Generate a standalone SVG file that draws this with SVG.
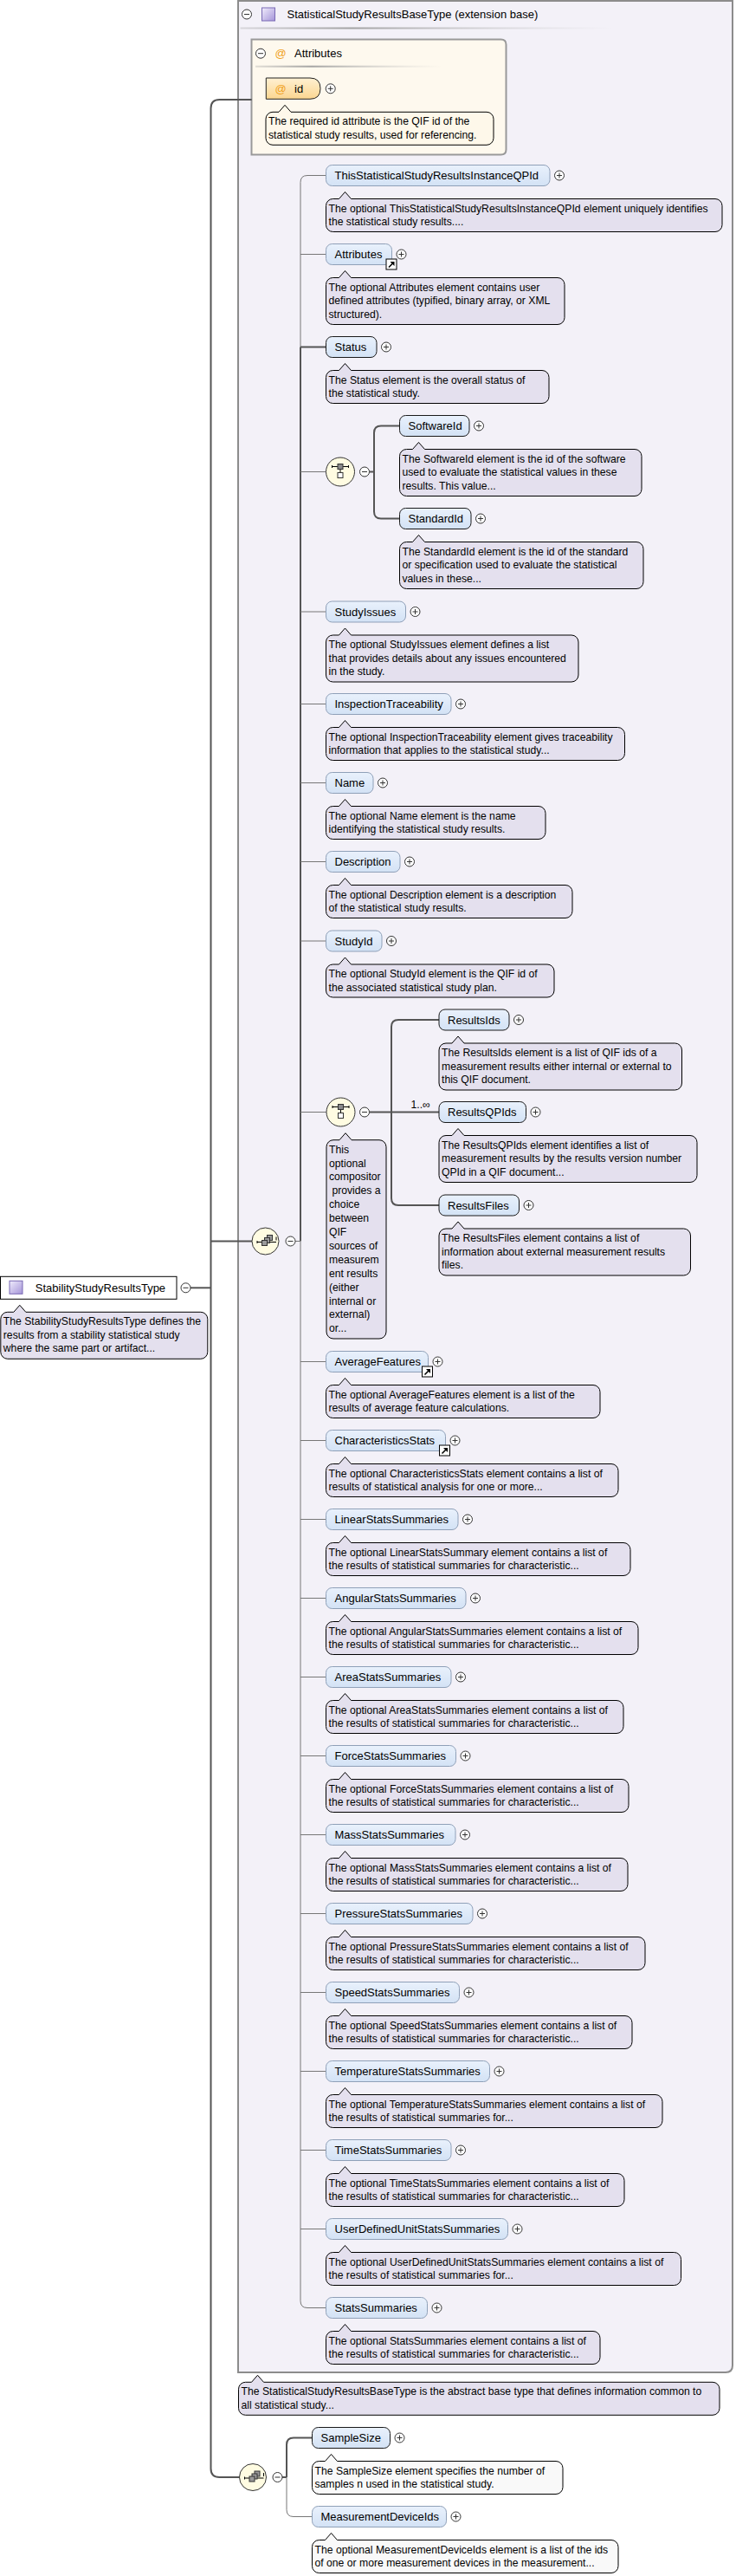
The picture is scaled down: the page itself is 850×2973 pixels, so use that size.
<svg xmlns="http://www.w3.org/2000/svg" xmlns:xlink="http://www.w3.org/1999/xlink" width="850" height="2973" viewBox="0 0 850 2973">
<style>
text{font-family:"Liberation Sans",Arial,sans-serif;fill:#000}
.l{font-size:13px}
.t{font-size:12.2px}
.n rect{fill:url(#ng);stroke:#8FA0B8;stroke-width:1}
.n.r rect{stroke:#1A1A1A}
.d{fill:#E4E0EE;stroke:#000;stroke-width:1}
.dc{fill:#FEF8EA;stroke:#000;stroke-width:1}
.dw{fill:#F9F9F9;stroke:#000;stroke-width:1}
.thin{fill:none;stroke:#777;stroke-width:1}
.thick{fill:none;stroke:#555;stroke-width:2}
.comp{fill:#FFFCE2;stroke:#333;stroke-width:1}
.at{font-size:13px;fill:#F0A020}
</style>
<defs>
<linearGradient id="ng" x1="0" y1="0" x2="0" y2="1"><stop offset="0" stop-color="#E9F1FC"/><stop offset="1" stop-color="#D3E2F5"/></linearGradient>
<linearGradient id="pg" x1="0" y1="0" x2="1" y2="1"><stop offset="0" stop-color="#F0ECFC"/><stop offset="1" stop-color="#A494D8"/></linearGradient>
<linearGradient id="og" x1="0" y1="0" x2="0" y2="1"><stop offset="0" stop-color="#FFF0D2"/><stop offset="1" stop-color="#FBD690"/></linearGradient>
<linearGradient id="sep" x1="0" y1="0" x2="1" y2="0"><stop offset="0" stop-color="#9A9A9A" stop-opacity="0.3"/><stop offset="0.3" stop-color="#9A9A9A" stop-opacity="0.9"/><stop offset="1" stop-color="#C8C8C8" stop-opacity="0"/></linearGradient>
<g id="plus"><circle r="5.5" fill="#fff" stroke="#333"/><path d="M-3 0H3M0-3V3" stroke="#333" stroke-width="1"/></g>
<g id="minus"><circle r="5.5" fill="#fff" stroke="#333"/><path d="M-3 0H3" stroke="#333" stroke-width="1"/></g>
<g id="link"><rect width="12" height="12" fill="#fff" stroke="#000"/><path d="M3 9.5L8 4.5" stroke="#000" stroke-width="1.6"/><path d="M4.5 3H9.5V8Z" fill="#000"/></g>
<g id="choiceIcon"><path d="M-9.5-6H9.5M-9.5-7.5V-4.5M9.5-7.5V-4.5M0-3V1" stroke="#000" stroke-width="1" fill="none"/><rect x="-3" y="-9" width="6" height="6" fill="#8A8A8A" stroke="#333"/><rect x="-3" y="1" width="6" height="6" fill="#fff" stroke="#333"/></g>
<g id="seqIcon"><path d="M-9.5 1H12.5M-9.5-0.5V2.5M12.5-5V-1" stroke="#000" stroke-width="1" fill="none"/><rect x="2" y="-7" width="6" height="6" fill="#9A9A9A" stroke="#333"/><rect x="-1" y="-4" width="6" height="6" fill="#9A9A9A" stroke="#333"/><rect x="-4" y="-1" width="6" height="6" fill="#9A9A9A" stroke="#333"/></g>
</defs>

<rect width="850" height="2973" fill="#fff"/>

<!-- base type box -->
<g id="base-box">
<path d="M275 1H846V2730Q846 2738 838 2738H275Z" fill="#F3F1F8" stroke="#8C8C8C" stroke-width="2"/>
<use xlink:href="#minus" x="285" y="16.5"/>
<rect x="302.5" y="9" width="15" height="15" fill="url(#pg)" stroke="#7A6AB5"/>
<text class="l" x="331.5" y="21">StatisticalStudyResultsBaseType (extension base)</text>
<rect x="277.5" y="31.5" width="430" height="2" fill="url(#sep)"/>
<g transform="translate(275.5,2749.3)">
<path class="d" d="M8 0h7l7-8l7 8h518.5a8 8 0 0 1 8 8v22a8 8 0 0 1-8 8h-539.5a8 8 0 0 1-8-8v-22a8 8 0 0 1 8-8z"/>
<text class="t" x="3" y="15">The StatisticalStudyResultsBaseType is the abstract base type that defines information common to</text>
<text class="t" x="3" y="30.5">all statistical study...</text>
</g>
</g>

<!-- attributes box -->
<g id="attributes-box">
<path d="M290.5 45.5H578.5Q584.5 45.5 584.5 51.5V172.5Q584.5 178.5 578.5 178.5H290.5Z" fill="#FEF9EE" stroke="#999" stroke-width="2"/>
<use xlink:href="#minus" x="301" y="61.7"/>
<text class="at" x="317.5" y="66">@</text>
<text class="l" x="340" y="66">Attributes</text>
<rect x="295" y="75.7" width="216" height="2" fill="url(#sep)"/>
</g>
<g id="attr-id">
<path d="M307.3 90H358Q370 90 370 102.2Q370 114.3 358 114.3H307.3Z" fill="url(#og)" stroke="#222"/>
<text class="at" x="317.5" y="107">@</text>
<text class="l" x="340" y="107">id</text>
<use xlink:href="#plus" x="381.7" y="102.3"/>
<g transform="translate(307,129.3)">
<path class="dc" d="M8 0h7l7-8l7 8h226a8 8 0 0 1 8 8v22a8 8 0 0 1-8 8h-247a8 8 0 0 1-8-8v-22a8 8 0 0 1 8-8z"/>
<text class="t" x="3" y="15">The required id attribute is the QIF id of the</text>
<text class="t" x="3" y="30.5">statistical study results, used for referencing.</text>
</g>
</g>

<!-- connectors -->
<g id="connectors">
<path class="thick" d="M290.7 115H253.5Q243.5 115 243.5 125V2849Q243.5 2859 253.5 2859H276.5"/>
<path class="thick" d="M243.5 1432.5H291"/>
<path class="thick" d="M220 1486.3H243.5"/>
<path class="thin" d="M376.5 202.5H355Q347 202.5 347 210.5V400.5"/>
<path class="thick" d="M347 400.5V1432.5M347 400.5H376.5"/>
<path class="thin" d="M341 1432.5H347V2655.5Q347 2663.5 355 2663.5H376.5"/>
<path class="thin" d="M347 293.5H376.5M347 544.5H376.5M347 706H376.5M347 812.5H376.5M347 903.5H376.5M347 994.5H376.5M347 1086H376.5M347 1283.5H377M347 1571.5H376.5M347 1662.5H376.5M347 1753.5H376.5M347 1844.5H376.5M347 1935.5H376.5M347 2026.5H376.5M347 2117.5H376.5M347 2208.5H376.5M347 2299.5H376.5M347 2390.5H376.5M347 2481.5H376.5M347 2572.5H376.5"/>
<path class="thick" d="M426.5 544.5H432M461.5 491.5H440Q432 491.5 432 499.5V590.5Q432 598.5 440 598.5H461.5"/>
<path class="thick" d="M426.5 1283.5H507M507 1177H460Q452 1177 452 1185V1383Q452 1391 460 1391H507"/>
<text class="t" x="474.5" y="1279">1..∞</text>
<path class="thick" d="M326 2859H331M360.5 2813.5H339Q331 2813.5 331 2821.5V2859"/>
<path class="thin" d="M331 2859V2896.5Q331 2904.5 339 2904.5H360.5"/>
</g>

<!-- root -->
<g id="root" transform="translate(0.5,1473.3)">
<rect width="203.5" height="26" fill="#fff" stroke="#000"/>
<rect x="10.5" y="5" width="15" height="15" fill="url(#pg)" stroke="#7A6AB5"/>
<text class="l" x="40.3" y="18">StabilityStudyResultsType</text>
<use xlink:href="#minus" x="214" y="13"/>
<g transform="translate(0.3,41)">
<path class="d" d="M8 0h7l7-8l7 8h202a8 8 0 0 1 8 8v38a8 8 0 0 1-8 8h-223a8 8 0 0 1-8-8v-38a8 8 0 0 1 8-8z"/>
<text class="t" x="3" y="15">The StabilityStudyResultsType defines the</text>
<text class="t" x="3" y="30.5">results from a stability statistical study</text>
<text class="t" x="3" y="46">where the same part or artifact...</text>
</g>
</g>

<!-- compositors -->
<g id="seq-main">
<circle class="comp" cx="306.5" cy="1432.5" r="15.5"/>
<use xlink:href="#seqIcon" x="306.5" y="1432.5"/>
<use xlink:href="#minus" x="335.5" y="1432.5"/>
</g>
<g id="choice-status">
<circle class="comp" cx="393" cy="544.5" r="16.5"/>
<use xlink:href="#choiceIcon" x="393" y="544.5"/>
<use xlink:href="#minus" x="421" y="544.5"/>
</g>
<g id="choice-results">
<circle class="comp" cx="393.5" cy="1283.5" r="16.5"/>
<use xlink:href="#choiceIcon" x="393.5" y="1283.5"/>
<use xlink:href="#minus" x="421" y="1283.5"/>
<g transform="translate(377,1315.7)">
<path class="d" d="M8 0h7l7-8l7 8h32a8 8 0 0 1 8 8v213.3a8 8 0 0 1-8 8h-53a8 8 0 0 1-8-8v-213.3a8 8 0 0 1 8-8z"/>
<text class="t" x="3" y="15">This</text>
<text class="t" x="3" y="30.9">optional</text>
<text class="t" x="3" y="46.8">compositor</text>
<text class="t" x="3" y="62.7">&#160;provides a</text>
<text class="t" x="3" y="78.6">choice</text>
<text class="t" x="3" y="94.5">between</text>
<text class="t" x="3" y="110.4">QIF</text>
<text class="t" x="3" y="126.3">sources of</text>
<text class="t" x="3" y="142.2">measurem</text>
<text class="t" x="3" y="158.1">ent results</text>
<text class="t" x="3" y="174">(either</text>
<text class="t" x="3" y="189.9">internal or</text>
<text class="t" x="3" y="205.8">external)</text>
<text class="t" x="3" y="221.7">or...</text>
</g>
</g>
<g id="seq-bottom">
<circle class="comp" cx="292" cy="2859" r="15.5"/>
<use xlink:href="#seqIcon" x="292" y="2859"/>
<use xlink:href="#minus" x="320.5" y="2859"/>
</g>

<!-- element nodes -->
<g id="ThisStatisticalStudyResultsInstanceQPId" class="n" transform="translate(376.5,190.5)">
<rect width="258.5" height="24" rx="7"/>
<text class="l" x="10" y="16.5">ThisStatisticalStudyResultsInstanceQPId</text>
<use xlink:href="#plus" x="269.5" y="12"/>
<path class="d" transform="translate(0,39)" d="M8 0h7l7-8l7 8h420.5a8 8 0 0 1 8 8v22a8 8 0 0 1-8 8h-441.5a8 8 0 0 1-8-8v-22a8 8 0 0 1 8-8z"/>
<text class="t" x="3" y="54">The optional ThisStatisticalStudyResultsInstanceQPId element uniquely identifies</text>
<text class="t" x="3" y="69.5">the statistical study results....</text>
</g>

<g id="Attributes" class="n" transform="translate(376.5,281.5)">
<rect width="76" height="24" rx="7"/>
<text class="l" x="10" y="16.5">Attributes</text>
<use xlink:href="#plus" x="87" y="12"/>
<use xlink:href="#link" x="69.5" y="17.5"/>
<path class="d" transform="translate(0,39)" d="M8 0h7l7-8l7 8h238.5a8 8 0 0 1 8 8v38a8 8 0 0 1-8 8h-259.5a8 8 0 0 1-8-8v-38a8 8 0 0 1 8-8z"/>
<text class="t" x="3" y="54">The optional Attributes element contains user</text>
<text class="t" x="3" y="69.5">defined attributes (typified, binary array, or XML</text>
<text class="t" x="3" y="85">structured).</text>
</g>

<g id="Status" class="n r" transform="translate(376.5,388.5)">
<rect width="58.5" height="24" rx="7"/>
<text class="l" x="10" y="16.5">Status</text>
<use xlink:href="#plus" x="69.5" y="12"/>
<path class="d" transform="translate(0,39)" d="M8 0h7l7-8l7 8h220.5a8 8 0 0 1 8 8v22a8 8 0 0 1-8 8h-241.5a8 8 0 0 1-8-8v-22a8 8 0 0 1 8-8z"/>
<text class="t" x="3" y="54">The Status element is the overall status of</text>
<text class="t" x="3" y="69.5">the statistical study.</text>
</g>

<g id="SoftwareId" class="n r" transform="translate(461.5,479.5)">
<rect width="80.5" height="24" rx="7"/>
<text class="l" x="10" y="16.5">SoftwareId</text>
<use xlink:href="#plus" x="91.5" y="12"/>
<path class="d" transform="translate(0,39)" d="M8 0h7l7-8l7 8h242.5a8 8 0 0 1 8 8v38a8 8 0 0 1-8 8h-263.5a8 8 0 0 1-8-8v-38a8 8 0 0 1 8-8z"/>
<text class="t" x="3" y="54">The SoftwareId element is the id of the software</text>
<text class="t" x="3" y="69.5">used to evaluate the statistical values in these</text>
<text class="t" x="3" y="85">results. This value...</text>
</g>

<g id="StandardId" class="n r" transform="translate(461.5,586.5)">
<rect width="82.5" height="24" rx="7"/>
<text class="l" x="10" y="16.5">StandardId</text>
<use xlink:href="#plus" x="93.5" y="12"/>
<path class="d" transform="translate(0,39)" d="M8 0h7l7-8l7 8h244.5a8 8 0 0 1 8 8v38a8 8 0 0 1-8 8h-265.5a8 8 0 0 1-8-8v-38a8 8 0 0 1 8-8z"/>
<text class="t" x="3" y="54">The StandardId element is the id of the standard</text>
<text class="t" x="3" y="69.5">or specification used to evaluate the statistical</text>
<text class="t" x="3" y="85">values in these...</text>
</g>

<g id="StudyIssues" class="n" transform="translate(376.5,694)">
<rect width="92" height="24" rx="7"/>
<text class="l" x="10" y="16.5">StudyIssues</text>
<use xlink:href="#plus" x="103" y="12"/>
<path class="d" transform="translate(0,39)" d="M8 0h7l7-8l7 8h254.5a8 8 0 0 1 8 8v38a8 8 0 0 1-8 8h-275.5a8 8 0 0 1-8-8v-38a8 8 0 0 1 8-8z"/>
<text class="t" x="3" y="54">The optional StudyIssues element defines a list</text>
<text class="t" x="3" y="69.5">that provides details about any issues encountered</text>
<text class="t" x="3" y="85">in the study.</text>
</g>

<g id="InspectionTraceability" class="n" transform="translate(376.5,800.5)">
<rect width="144.5" height="24" rx="7"/>
<text class="l" x="10" y="16.5">InspectionTraceability</text>
<use xlink:href="#plus" x="155.5" y="12"/>
<path class="d" transform="translate(0,39)" d="M8 0h7l7-8l7 8h308a8 8 0 0 1 8 8v22a8 8 0 0 1-8 8h-329a8 8 0 0 1-8-8v-22a8 8 0 0 1 8-8z"/>
<text class="t" x="3" y="54">The optional InspectionTraceability element gives traceability</text>
<text class="t" x="3" y="69.5">information that applies to the statistical study...</text>
</g>

<g id="Name" class="n" transform="translate(376.5,891.5)">
<rect width="54.5" height="24" rx="7"/>
<text class="l" x="10" y="16.5">Name</text>
<use xlink:href="#plus" x="65.5" y="12"/>
<path class="d" transform="translate(0,39)" d="M8 0h7l7-8l7 8h216.5a8 8 0 0 1 8 8v22a8 8 0 0 1-8 8h-237.5a8 8 0 0 1-8-8v-22a8 8 0 0 1 8-8z"/>
<text class="t" x="3" y="54">The optional Name element is the name</text>
<text class="t" x="3" y="69.5">identifying the statistical study results.</text>
</g>

<g id="Description" class="n" transform="translate(376.5,982.5)">
<rect width="85.5" height="24" rx="7"/>
<text class="l" x="10" y="16.5">Description</text>
<use xlink:href="#plus" x="96.5" y="12"/>
<path class="d" transform="translate(0,39)" d="M8 0h7l7-8l7 8h247.5a8 8 0 0 1 8 8v22a8 8 0 0 1-8 8h-268.5a8 8 0 0 1-8-8v-22a8 8 0 0 1 8-8z"/>
<text class="t" x="3" y="54">The optional Description element is a description</text>
<text class="t" x="3" y="69.5">of the statistical study results.</text>
</g>

<g id="StudyId" class="n" transform="translate(376.5,1074)">
<rect width="64.5" height="24" rx="7"/>
<text class="l" x="10" y="16.5">StudyId</text>
<use xlink:href="#plus" x="75.5" y="12"/>
<path class="d" transform="translate(0,39)" d="M8 0h7l7-8l7 8h226.5a8 8 0 0 1 8 8v22a8 8 0 0 1-8 8h-247.5a8 8 0 0 1-8-8v-22a8 8 0 0 1 8-8z"/>
<text class="t" x="3" y="54">The optional StudyId element is the QIF id of</text>
<text class="t" x="3" y="69.5">the associated statistical study plan.</text>
</g>

<g id="ResultsIds" class="n r" transform="translate(507,1165)">
<rect width="81" height="24" rx="7"/>
<text class="l" x="10" y="16.5">ResultsIds</text>
<use xlink:href="#plus" x="92" y="12"/>
<path class="d" transform="translate(0,39)" d="M8 0h7l7-8l7 8h243.5a8 8 0 0 1 8 8v38a8 8 0 0 1-8 8h-264.5a8 8 0 0 1-8-8v-38a8 8 0 0 1 8-8z"/>
<text class="t" x="3" y="54">The ResultsIds element is a list of QIF ids of a</text>
<text class="t" x="3" y="69.5">measurement results either internal or external to</text>
<text class="t" x="3" y="85">this QIF document.</text>
</g>

<g id="ResultsQPIds" class="n r" transform="translate(507,1271.5)">
<rect width="100.5" height="24" rx="7"/>
<text class="l" x="10" y="16.5">ResultsQPIds</text>
<use xlink:href="#plus" x="111.5" y="12"/>
<path class="d" transform="translate(0,39)" d="M8 0h7l7-8l7 8h261a8 8 0 0 1 8 8v38a8 8 0 0 1-8 8h-282a8 8 0 0 1-8-8v-38a8 8 0 0 1 8-8z"/>
<text class="t" x="3" y="54">The ResultsQPIds element identifies a list of</text>
<text class="t" x="3" y="69.5">measurement results by the results version number</text>
<text class="t" x="3" y="85">QPId in a QIF document...</text>
</g>

<g id="ResultsFiles" class="n r" transform="translate(507,1379)">
<rect width="92.5" height="24" rx="7"/>
<text class="l" x="10" y="16.5">ResultsFiles</text>
<use xlink:href="#plus" x="103.5" y="12"/>
<path class="d" transform="translate(0,39)" d="M8 0h7l7-8l7 8h253.5a8 8 0 0 1 8 8v38a8 8 0 0 1-8 8h-274.5a8 8 0 0 1-8-8v-38a8 8 0 0 1 8-8z"/>
<text class="t" x="3" y="54">The ResultsFiles element contains a list of</text>
<text class="t" x="3" y="69.5">information about external measurement results</text>
<text class="t" x="3" y="85">files.</text>
</g>

<g id="AverageFeatures" class="n" transform="translate(376.5,1559.5)">
<rect width="118" height="24" rx="7"/>
<text class="l" x="10" y="16.5">AverageFeatures</text>
<use xlink:href="#plus" x="129" y="12"/>
<use xlink:href="#link" x="111" y="17.5"/>
<path class="d" transform="translate(0,39)" d="M8 0h7l7-8l7 8h279.5a8 8 0 0 1 8 8v22a8 8 0 0 1-8 8h-300.5a8 8 0 0 1-8-8v-22a8 8 0 0 1 8-8z"/>
<text class="t" x="3" y="54">The optional AverageFeatures element is a list of the</text>
<text class="t" x="3" y="69.5">results of average feature calculations.</text>
</g>

<g id="CharacteristicsStats" class="n" transform="translate(376.5,1650.5)">
<rect width="138" height="24" rx="7"/>
<text class="l" x="10" y="16.5">CharacteristicsStats</text>
<use xlink:href="#plus" x="149" y="12"/>
<use xlink:href="#link" x="131" y="17.5"/>
<path class="d" transform="translate(0,39)" d="M8 0h7l7-8l7 8h300.5a8 8 0 0 1 8 8v22a8 8 0 0 1-8 8h-321.5a8 8 0 0 1-8-8v-22a8 8 0 0 1 8-8z"/>
<text class="t" x="3" y="54">The optional CharacteristicsStats element contains a list of</text>
<text class="t" x="3" y="69.5">results of statistical analysis for one or more...</text>
</g>

<g id="LinearStatsSummaries" class="n" transform="translate(376.5,1741.5)">
<rect width="152.5" height="24" rx="7"/>
<text class="l" x="10" y="16.5">LinearStatsSummaries</text>
<use xlink:href="#plus" x="163.5" y="12"/>
<path class="d" transform="translate(0,39)" d="M8 0h7l7-8l7 8h314.5a8 8 0 0 1 8 8v22a8 8 0 0 1-8 8h-335.5a8 8 0 0 1-8-8v-22a8 8 0 0 1 8-8z"/>
<text class="t" x="3" y="54">The optional LinearStatsSummary element contains a list of</text>
<text class="t" x="3" y="69.5">the results of statistical summaries for characteristic...</text>
</g>

<g id="AngularStatsSummaries" class="n" transform="translate(376.5,1832.5)">
<rect width="161.5" height="24" rx="7"/>
<text class="l" x="10" y="16.5">AngularStatsSummaries</text>
<use xlink:href="#plus" x="172.5" y="12"/>
<path class="d" transform="translate(0,39)" d="M8 0h7l7-8l7 8h323.5a8 8 0 0 1 8 8v22a8 8 0 0 1-8 8h-344.5a8 8 0 0 1-8-8v-22a8 8 0 0 1 8-8z"/>
<text class="t" x="3" y="54">The optional AngularStatsSummaries element contains a list of</text>
<text class="t" x="3" y="69.5">the results of statistical summaries for characteristic...</text>
</g>

<g id="AreaStatsSummaries" class="n" transform="translate(376.5,1923.5)">
<rect width="144.5" height="24" rx="7"/>
<text class="l" x="10" y="16.5">AreaStatsSummaries</text>
<use xlink:href="#plus" x="155.5" y="12"/>
<path class="d" transform="translate(0,39)" d="M8 0h7l7-8l7 8h306.5a8 8 0 0 1 8 8v22a8 8 0 0 1-8 8h-327.5a8 8 0 0 1-8-8v-22a8 8 0 0 1 8-8z"/>
<text class="t" x="3" y="54">The optional AreaStatsSummaries element contains a list of</text>
<text class="t" x="3" y="69.5">the results of statistical summaries for characteristic...</text>
</g>

<g id="ForceStatsSummaries" class="n" transform="translate(376.5,2014.5)">
<rect width="150" height="24" rx="7"/>
<text class="l" x="10" y="16.5">ForceStatsSummaries</text>
<use xlink:href="#plus" x="161" y="12"/>
<path class="d" transform="translate(0,39)" d="M8 0h7l7-8l7 8h312.5a8 8 0 0 1 8 8v22a8 8 0 0 1-8 8h-333.5a8 8 0 0 1-8-8v-22a8 8 0 0 1 8-8z"/>
<text class="t" x="3" y="54">The optional ForceStatsSummaries element contains a list of</text>
<text class="t" x="3" y="69.5">the results of statistical summaries for characteristic...</text>
</g>

<g id="MassStatsSummaries" class="n" transform="translate(376.5,2105.5)">
<rect width="149.5" height="24" rx="7"/>
<text class="l" x="10" y="16.5">MassStatsSummaries</text>
<use xlink:href="#plus" x="160.5" y="12"/>
<path class="d" transform="translate(0,39)" d="M8 0h7l7-8l7 8h311.5a8 8 0 0 1 8 8v22a8 8 0 0 1-8 8h-332.5a8 8 0 0 1-8-8v-22a8 8 0 0 1 8-8z"/>
<text class="t" x="3" y="54">The optional MassStatsSummaries element contains a list of</text>
<text class="t" x="3" y="69.5">the results of statistical summaries for characteristic...</text>
</g>

<g id="PressureStatsSummaries" class="n" transform="translate(376.5,2196.5)">
<rect width="169.5" height="24" rx="7"/>
<text class="l" x="10" y="16.5">PressureStatsSummaries</text>
<use xlink:href="#plus" x="180.5" y="12"/>
<path class="d" transform="translate(0,39)" d="M8 0h7l7-8l7 8h331.5a8 8 0 0 1 8 8v22a8 8 0 0 1-8 8h-352.5a8 8 0 0 1-8-8v-22a8 8 0 0 1 8-8z"/>
<text class="t" x="3" y="54">The optional PressureStatsSummaries element contains a list of</text>
<text class="t" x="3" y="69.5">the results of statistical summaries for characteristic...</text>
</g>

<g id="SpeedStatsSummaries" class="n" transform="translate(376.5,2287.5)">
<rect width="154" height="24" rx="7"/>
<text class="l" x="10" y="16.5">SpeedStatsSummaries</text>
<use xlink:href="#plus" x="165" y="12"/>
<path class="d" transform="translate(0,39)" d="M8 0h7l7-8l7 8h316.5a8 8 0 0 1 8 8v22a8 8 0 0 1-8 8h-337.5a8 8 0 0 1-8-8v-22a8 8 0 0 1 8-8z"/>
<text class="t" x="3" y="54">The optional SpeedStatsSummaries element contains a list of</text>
<text class="t" x="3" y="69.5">the results of statistical summaries for characteristic...</text>
</g>

<g id="TemperatureStatsSummaries" class="n" transform="translate(376.5,2378.5)">
<rect width="189" height="24" rx="7"/>
<text class="l" x="10" y="16.5">TemperatureStatsSummaries</text>
<use xlink:href="#plus" x="200" y="12"/>
<path class="d" transform="translate(0,39)" d="M8 0h7l7-8l7 8h351.5a8 8 0 0 1 8 8v22a8 8 0 0 1-8 8h-372.5a8 8 0 0 1-8-8v-22a8 8 0 0 1 8-8z"/>
<text class="t" x="3" y="54">The optional TemperatureStatsSummaries element contains a list of</text>
<text class="t" x="3" y="69.5">the results of statistical summaries for...</text>
</g>

<g id="TimeStatsSummaries" class="n" transform="translate(376.5,2469.5)">
<rect width="144.5" height="24" rx="7"/>
<text class="l" x="10" y="16.5">TimeStatsSummaries</text>
<use xlink:href="#plus" x="155.5" y="12"/>
<path class="d" transform="translate(0,39)" d="M8 0h7l7-8l7 8h307.5a8 8 0 0 1 8 8v22a8 8 0 0 1-8 8h-328.5a8 8 0 0 1-8-8v-22a8 8 0 0 1 8-8z"/>
<text class="t" x="3" y="54">The optional TimeStatsSummaries element contains a list of</text>
<text class="t" x="3" y="69.5">the results of statistical summaries for characteristic...</text>
</g>

<g id="UserDefinedUnitStatsSummaries" class="n" transform="translate(376.5,2560.5)">
<rect width="210" height="24" rx="7"/>
<text class="l" x="10" y="16.5">UserDefinedUnitStatsSummaries</text>
<use xlink:href="#plus" x="221" y="12"/>
<path class="d" transform="translate(0,39)" d="M8 0h7l7-8l7 8h373a8 8 0 0 1 8 8v22a8 8 0 0 1-8 8h-394a8 8 0 0 1-8-8v-22a8 8 0 0 1 8-8z"/>
<text class="t" x="3" y="54">The optional UserDefinedUnitStatsSummaries element contains a list of</text>
<text class="t" x="3" y="69.5">the results of statistical summaries for...</text>
</g>

<g id="StatsSummaries" class="n" transform="translate(376.5,2651.5)">
<rect width="117" height="24" rx="7"/>
<text class="l" x="10" y="16.5">StatsSummaries</text>
<use xlink:href="#plus" x="128" y="12"/>
<path class="d" transform="translate(0,39)" d="M8 0h7l7-8l7 8h279.5a8 8 0 0 1 8 8v22a8 8 0 0 1-8 8h-300.5a8 8 0 0 1-8-8v-22a8 8 0 0 1 8-8z"/>
<text class="t" x="3" y="54">The optional StatsSummaries element contains a list of</text>
<text class="t" x="3" y="69.5">the results of statistical summaries for characteristic...</text>
</g>

<g id="SampleSize" class="n r" transform="translate(360.5,2801.5)">
<rect width="90" height="24" rx="7"/>
<text class="l" x="10" y="16.5">SampleSize</text>
<use xlink:href="#plus" x="101" y="12"/>
<path class="dw" transform="translate(0,39)" d="M8 0h7l7-8l7 8h252.5a8 8 0 0 1 8 8v22a8 8 0 0 1-8 8h-273.5a8 8 0 0 1-8-8v-22a8 8 0 0 1 8-8z"/>
<text class="t" x="3" y="54">The SampleSize element specifies the number of</text>
<text class="t" x="3" y="69.5">samples n used in the statistical study.</text>
</g>

<g id="MeasurementDeviceIds" class="n" transform="translate(360.5,2892.5)">
<rect width="155" height="24" rx="7"/>
<text class="l" x="10" y="16.5">MeasurementDeviceIds</text>
<use xlink:href="#plus" x="166" y="12"/>
<path class="dw" transform="translate(0,39)" d="M8 0h7l7-8l7 8h316.5a8 8 0 0 1 8 8v22a8 8 0 0 1-8 8h-337.5a8 8 0 0 1-8-8v-22a8 8 0 0 1 8-8z"/>
<text class="t" x="3" y="54">The optional MeasurementDeviceIds element is a list of the ids</text>
<text class="t" x="3" y="69.5">of one or more measurement devices in the measurement...</text>
</g>
</svg>
